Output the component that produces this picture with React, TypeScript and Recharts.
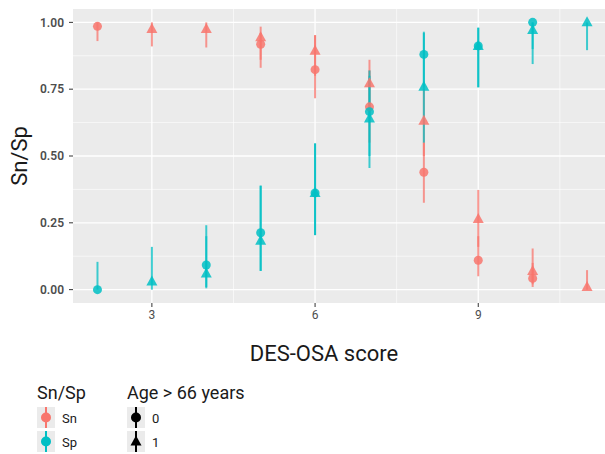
import React from 'react';
import {
  ScatterChart, Scatter, XAxis, YAxis, ErrorBar, ReferenceLine, ReferenceArea,
} from 'recharts';

// Sn, age > 66 = 0 (circles)
const snAge0Score = [2, 5, 6, 7, 8, 9, 10];
const snAge0Value = [0.985, 0.918, 0.823, 0.684, 0.439, 0.11, 0.042];
const snAge0Low = [0.93, 0.83, 0.716, 0.55, 0.325, 0.05, 0.01];
const snAge0High = [1.0, 0.96, 0.952, 0.86, 0.55, 0.2, 0.1];

// Sn, age > 66 = 1 (triangles)
const snAge1Score = [3, 4, 5, 6, 7, 8, 9, 10, 11];
const snAge1Value = [0.975, 0.975, 0.944, 0.894, 0.772, 0.632, 0.264, 0.07, 0.01];
const snAge1Low = [0.91, 0.906, 0.86, 0.8, 0.66, 0.5, 0.16, 0.02, 0.0];
const snAge1High = [1.0, 1.0, 0.984, 0.952, 0.82, 0.75, 0.373, 0.154, 0.073];

// Sp, age > 66 = 0 (circles)
const spAge0Score = [2, 4, 5, 6, 7, 8, 9, 10];
const spAge0Value = [0.0, 0.092, 0.213, 0.362, 0.666, 0.88, 0.912, 1.0];
const spAge0Low = [0.0, 0.005, 0.07, 0.204, 0.5, 0.76, 0.757, 0.9];
const spAge0High = [0.104, 0.241, 0.389, 0.547, 0.8, 0.965, 0.98, 1.0];

// Sp, age > 66 = 1 (triangles)
const spAge1Score = [3, 4, 5, 6, 7, 8, 9, 10, 11];
const spAge1Value = [0.03, 0.06, 0.183, 0.362, 0.64, 0.759, 0.912, 0.971, 1.0];
const spAge1Low = [0.0, 0.01, 0.07, 0.204, 0.455, 0.55, 0.757, 0.844, 0.896];
const spAge1High = [0.16, 0.2, 0.389, 0.547, 0.82, 0.96, 0.98, 1.0, 1.0];

const yTicks = [0, 0.25, 0.5, 0.75, 1];
const yMinor = [0.125, 0.375, 0.625, 0.875];
const xTicks = [3, 6, 9];
const xMinor = [4.5, 7.5, 10.5];

const colors = {
  sn: '#F8766D',
  sp: '#00BFC4',
  panel: '#EBEBEB',
  tickText: '#4D4D4D',
  tick: '#333333',
  title: '#1A1A1A',
};

const font = 'Roboto, "Noto Sans", sans-serif';

const build = (xs: number[], ys: number[], lo: number[], hi: number[]) => {
  return xs.map((x, i) => ({ x, y: ys[i], err: [ys[i] - lo[i], hi[i] - ys[i]] }));
};

const circleShape = (color: string) => (props: any) => {
  const { cx, cy } = props;
  return <circle cx={cx} cy={cy} r={4.5} fill={color} fillOpacity={0.85} />;
};

const triangleShape = (color: string) => (props: any) => {
  const { cx, cy } = props;
  return (
    <polygon
      points={`${cx},${cy - 6} ${cx - 5.5},${cy + 4} ${cx + 5.5},${cy + 4}`}
      fill={color}
      fillOpacity={0.85}
    />
  );
};

const series = [
  { name: 'sn0', color: colors.sn, shape: circleShape(colors.sn), data: build(snAge0Score, snAge0Value, snAge0Low, snAge0High) },
  { name: 'sn1', color: colors.sn, shape: triangleShape(colors.sn), data: build(snAge1Score, snAge1Value, snAge1Low, snAge1High) },
  { name: 'sp0', color: colors.sp, shape: circleShape(colors.sp), data: build(spAge0Score, spAge0Value, spAge0Low, spAge0High) },
  { name: 'sp1', color: colors.sp, shape: triangleShape(colors.sp), data: build(spAge1Score, spAge1Value, spAge1Low, spAge1High) },
];

const LegendKey = ({ x, y, color, tri = false }) => {
  const cx = x + 9;
  const cy = y + 10.5;
  return (
    <g>
      <rect x={x} y={y} width={18} height={21} fill={colors.panel} />
      <line x1={cx} x2={cx} y1={y} y2={y + 21} stroke={color} strokeWidth={2} />
      {tri
        ? <polygon points={`${cx},${cy - 6} ${cx - 5.5},${cy + 4} ${cx + 5.5},${cy + 4}`} fill={color} />
        : <circle cx={cx} cy={cy} r={5} fill={color} />}
    </g>
  );
};

const ChartLegend = () => {
  return (
    <svg width={605} height={80} style={{ position: 'absolute', left: 0, top: 374 }} fontFamily={font}>
      <text x={37} y={25} fontSize={18} fill={colors.title}>Sn/Sp</text>
      <LegendKey x={37} y={33} color={colors.sn} />
      <LegendKey x={37} y={57} color={colors.sp} />
      <text x={62} y={49} fontSize={13} fill={colors.title}>Sn</text>
      <text x={62} y={73} fontSize={13} fill={colors.title}>Sp</text>

      <text x={127} y={25} fontSize={18} fill={colors.title}>Age &gt; 66 years</text>
      <LegendKey x={127} y={33} color="#000" />
      <LegendKey x={127} y={57} color="#000" tri />
      <text x={152} y={49} fontSize={13} fill={colors.title}>0</text>
      <text x={152} y={73} fontSize={13} fill={colors.title}>1</text>
    </svg>
  );
};

export default function App() {
  return (
    <div style={{ position: 'absolute', left: 0, top: 0, width: 605, height: 454, background: '#fff' }}>
      <ScatterChart width={605} height={454} margin={{ top: 9, right: 0, left: 0, bottom: 121 }}>
        <ReferenceArea x1={1.55} x2={11.33} y1={-0.05} y2={1.05} fill={colors.panel} fillOpacity={1} stroke="none" />
        {yMinor.map((v) => <ReferenceLine key={`ym${v}`} y={v} stroke="#fff" strokeWidth={0.6} />)}
        {xMinor.map((v) => <ReferenceLine key={`xm${v}`} x={v} stroke="#fff" strokeWidth={0.6} />)}
        {yTicks.map((v) => <ReferenceLine key={`y${v}`} y={v} stroke="#fff" strokeWidth={1.3} />)}
        {xTicks.map((v) => <ReferenceLine key={`x${v}`} x={v} stroke="#fff" strokeWidth={1.3} />)}
        <XAxis
          type="number"
          dataKey="x"
          domain={[1.55, 11.33]}
          ticks={xTicks}
          allowDataOverflow
          height={30}
          axisLine={false}
          tickSize={4}
          tickMargin={3}
          tickLine={{ stroke: colors.tick }}
          tick={{ fontSize: 12, fill: colors.tickText, fontFamily: font }}
          label={{
            content: () => (
              <text x={324} y={361} textAnchor="middle" fontSize={22} fill={colors.title} fontFamily={font}>
                DES-OSA score
              </text>
            ),
          }}
        />
        <YAxis
          type="number"
          dataKey="y"
          domain={[-0.05, 1.05]}
          ticks={yTicks}
          allowDataOverflow
          width={73}
          axisLine={false}
          tickSize={4}
          tickMargin={5}
          tickLine={{ stroke: colors.tick }}
          tickFormatter={(v) => v.toFixed(2)}
          tick={{ fontSize: 12, fill: colors.tickText, fontFamily: font, fontWeight: 600 }}
          label={{
            content: () => (
              <text x={27} y={156} textAnchor="middle" fontSize={22} fill={colors.title} fontFamily={font} transform="rotate(-90 27 156)">
                Sn/Sp
              </text>
            ),
          }}
        />
        {series.map((s) => (
          <Scatter key={s.name} data={s.data} shape={s.shape} isAnimationActive={false}>
            <ErrorBar dataKey="err" direction="y" width={0} stroke={s.color} strokeWidth={2} strokeOpacity={0.75} />
          </Scatter>
        ))}
      </ScatterChart>
      <ChartLegend />
    </div>
  );
}
